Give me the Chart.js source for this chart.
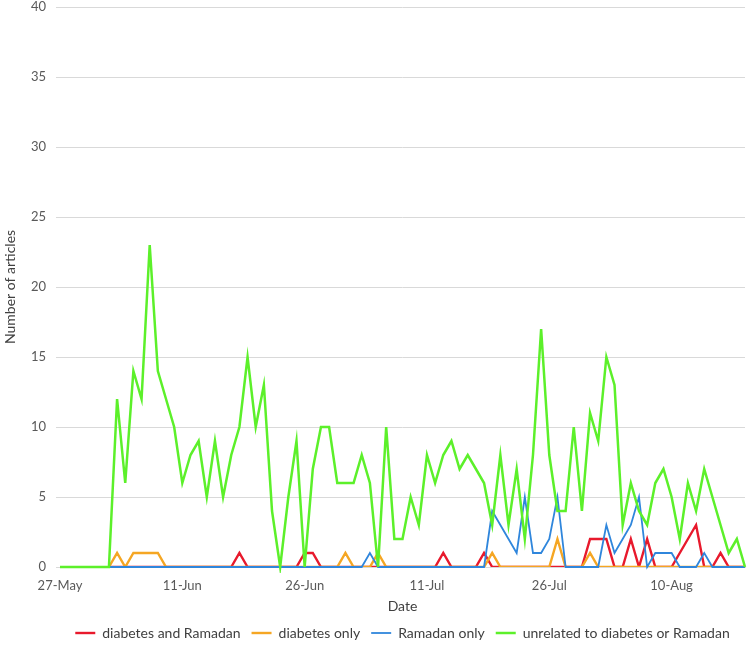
<!DOCTYPE html>
<html lang="en">
<head>
<meta charset="UTF-8">
<title>Articles per day</title>
<script src="https://cdn.jsdelivr.net/npm/chart.js"></script>
<style>
	body { margin: 0; padding: 0; background: #fff; }
	#wrap { width: 750px; height: 646px; }
</style>
</head>
<body>
<div id="wrap"><canvas id="articlesChart" width="750" height="646"></canvas></div>
<script>
	// Dates (27-May .. 19-Aug)
	const dates = [
		'27-May', '28-May', '29-May', '30-May', '31-May',
		'1-Jun', '2-Jun', '3-Jun', '4-Jun', '5-Jun', '6-Jun', '7-Jun', '8-Jun', '9-Jun', '10-Jun',
		'11-Jun', '12-Jun', '13-Jun', '14-Jun', '15-Jun', '16-Jun', '17-Jun', '18-Jun', '19-Jun', '20-Jun',
		'21-Jun', '22-Jun', '23-Jun', '24-Jun', '25-Jun', '26-Jun', '27-Jun', '28-Jun', '29-Jun', '30-Jun',
		'1-Jul', '2-Jul', '3-Jul', '4-Jul', '5-Jul', '6-Jul', '7-Jul', '8-Jul', '9-Jul', '10-Jul',
		'11-Jul', '12-Jul', '13-Jul', '14-Jul', '15-Jul', '16-Jul', '17-Jul', '18-Jul', '19-Jul', '20-Jul',
		'21-Jul', '22-Jul', '23-Jul', '24-Jul', '25-Jul', '26-Jul', '27-Jul', '28-Jul', '29-Jul', '30-Jul',
		'31-Jul', '1-Aug', '2-Aug', '3-Aug', '4-Aug', '5-Aug', '6-Aug', '7-Aug', '8-Aug', '9-Aug',
		'10-Aug', '11-Aug', '12-Aug', '13-Aug', '14-Aug', '15-Aug', '16-Aug', '17-Aug', '18-Aug', '19-Aug'
	];
	// only these dates get a label on the axis
	const tickDates = ['27-May', '11-Jun', '26-Jun', '11-Jul', '26-Jul', '10-Aug'];
	const yTicks = [0, 5, 10, 15, 20, 25, 30, 35, 40];

	const diabetesAndRamadan = [
		null, null, null, null, null, null, 0, 0, 0, 0,
		0, 0, 0, 0, 0, 0, 0, 0, 0, 0,
		0, 0, 1, 0, 0, 0, 0, 0, 0, 0,
		1, 1, 0, 0, 0, 0, 0, 0, 0, 0,
		0, 0, 0, 0, 0, 0, 0, 1, 0, 0,
		0, 0, 1, 0, 0, 0, 0, 0, 0, 0,
		0, 0, 0, 0, 0, 2, 2, 2, 0, 0,
		2, 0, 2, 0, 0, 0, 1, 2, 3, 0,
		0, 1, 0, 0, 0
	];
	const diabetesOnly = [
		null, null, null, null, null, null, 0, 1, 0, 1,
		1, 1, 1, 0, 0, 0, 0, 0, 0, 0,
		0, 0, 0, 0, 0, 0, 0, 0, 0, 0,
		0, 0, 0, 0, 0, 1, 0, 0, 0, 1,
		0, 0, 0, 0, 0, 0, 0, 0, 0, 0,
		0, 0, 0, 1, 0, 0, 0, 0, 0, 0,
		0, 2, 0, 0, 0, 1, 0, 0, 0, 0,
		0, 0, 0, 0, 0, 0, 0, 0, 0, 0,
		0, 0, 0, 0, 0
	];
	const ramadanOnly = [
		null, null, null, null, null, null, 0, 0, 0, 0,
		0, 0, 0, 0, 0, 0, 0, 0, 0, 0,
		0, 0, 0, 0, 0, 0, 0, 0, 0, 0,
		0, 0, 0, 0, 0, 0, 0, 0, 1, 0,
		0, 0, 0, 0, 0, 0, 0, 0, 0, 0,
		0, 0, 0, 4, 3, 2, 1, 5, 1, 1,
		2, 5, 0, 0, 0, 0, 0, 3, 1, 2,
		3, 5, 0, 1, 1, 1, 0, 0, 0, 1,
		0, 0, 0, 0, 0
	];
	const unrelated = [
		0, 0, 0, 0, 0, 0, 0, 12, 6, 14,
		12, 23, 14, 12, 10, 6, 8, 9, 5, 9,
		5, 8, 10, 15, 10, 13, 4, 0, 5, 9,
		0, 7, 10, 10, 6, 6, 6, 8, 6, 0,
		10, 2, 2, 5, 3, 8, 6, 8, 9, 7,
		8, 7, 6, 3, 8, 3, 7, 2, 8, 17,
		8, 4, 4, 10, 4, 11, 9, 15, 13, 3,
		6, 4, 3, 6, 7, 5, 2, 6, 4, 7,
		5, 3, 1, 2, 0
	];

	const FONT = 'Lato, "Open Sans", sans-serif';

	// later series sit on top, like the original (order: lower = drawn on top)
	function line(label, data, color, width, order, clipBottom) {
		return {
			label: label,
			data: data,
			borderColor: color,
			backgroundColor: color,
			borderWidth: width,
			pointRadius: 0,
			pointHoverRadius: 0,
			tension: 0,
			clip: {left: 6, right: 6, top: 6, bottom: clipBottom},
			order: order
		};
	}

	const ctx = document.getElementById('articlesChart').getContext('2d');
	new Chart(ctx, {
		type: 'line',
		data: {
			labels: dates,
			datasets: [
				line('diabetes and Ramadan', diabetesAndRamadan, '#e8192c', 2.4, 4, 0),
				line('diabetes only', diabetesOnly, '#f5a623', 2.4, 3, 0),
				line('Ramadan only', ramadanOnly, '#2f86dc', 1.8, 2, 6),
				line('unrelated to diabetes or Ramadan', unrelated, '#5cf02a', 2.5, 1, 6)
			]
		},
		options: {
			responsive: false,
			devicePixelRatio: 1,
			animation: false,
			layout: {
				autoPadding: false,
				padding: {top: 7, right: 5, left: 0, bottom: 0}
			},
			scales: {
				x: {
					type: 'category',
					offset: false,
					afterFit: function (scale) {
						scale.height = 48;
						scale.paddingLeft = 0;
						scale.paddingRight = 0;
					},
					grid: {display: false, drawTicks: false},
					border: {color: '#d9d9d9', width: 1},
					ticks: {
						autoSkip: false,
						maxRotation: 0,
						minRotation: 0,
						padding: 12,
						color: '#595959',
						font: {family: FONT, size: 13, lineHeight: 1},
						callback: function (value, index) {
							const d = dates[index];
							return tickDates.includes(d) ? d : '';
						}
					},
					title: {
						display: true,
						text: 'Date',
						color: '#404040',
						font: {family: FONT, size: 14},
						padding: {top: 1.6, bottom: 0}
					}
				},
				y: {
					min: yTicks[0],
					max: yTicks[yTicks.length - 1],
					afterFit: function (scale) {
						scale.width = 60;
						scale.paddingTop = 0;
						scale.paddingBottom = 0;
					},
					afterBuildTicks: function (scale) {
						scale.ticks = yTicks.map(v => ({value: v}));
					},
					grid: {color: '#d9d9d9', tickLength: 4, tickColor: '#d9d9d9'},
					border: {display: false},
					ticks: {
						padding: 10,
						color: '#595959',
						font: {family: FONT, size: 13}
					},
					title: {
						display: true,
						text: 'Number of articles',
						color: '#404040',
						font: {family: FONT, size: 14},
						padding: {top: 2, bottom: 2}
					}
				}
			},
			plugins: {
				tooltip: {enabled: false},
				legend: {
					position: 'bottom',
					fullSize: false,
					maxHeight: 31,
					labels: {
						usePointStyle: true,
						pointStyle: 'line',
						pointStyleWidth: 20,
						padding: 11,
						color: '#404040',
						font: {family: FONT, size: 14},
						sort: (a, b) => a.datasetIndex - b.datasetIndex
					}
				}
			}
		}
	});
</script>
</body>
</html>
